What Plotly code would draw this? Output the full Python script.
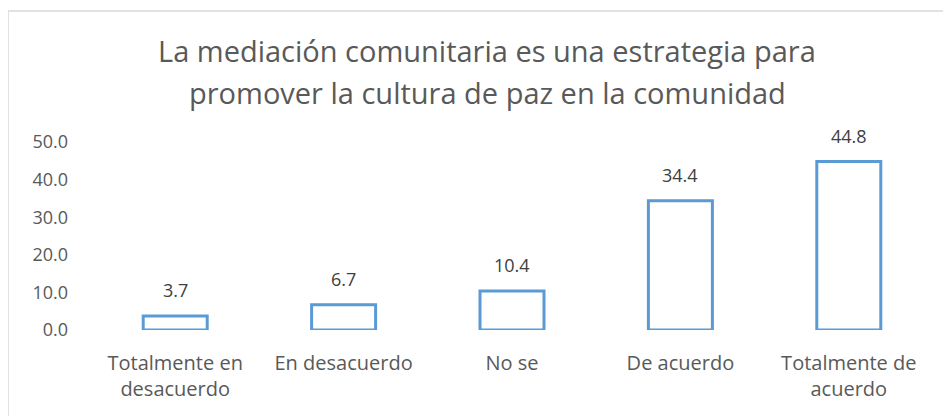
import plotly.graph_objects as go

categories = ["Totalmente en<br>desacuerdo", "En desacuerdo", "No se", "De acuerdo", "Totalmente de<br>acuerdo"]
values = [3.7, 6.7, 10.4, 34.4, 44.8]
title_lines = ["La mediación comunitaria es una estrategia para",
               "promover la cultura de paz en la comunidad"]
tick_vals = [0, 10, 20, 30, 40, 50]
tick_text = ["0.0", "10.0", "20.0", "30.0", "40.0", "50.0"]

FONT = "Open Sans, Lato, sans-serif"
OFF = 8  # page body margin
W, H = 951 - OFF, 416 - OFF
ml, mr, mt, mb = 91 - OFF, 18, 142 - OFF, 86
pw = W - ml - mr
ph = H - mt - mb

fig = go.Figure(go.Bar(
    x=categories, y=values,
    marker=dict(color="white", line=dict(color="#5B9BD5", width=3)),
    width=0.38,
    cliponaxis=False,
))

for c, v in zip(categories, values):
    fig.add_annotation(x=c, y=v, text=f"{v:.1f}", showarrow=False,
                       xanchor="center", yanchor="middle", yshift=26,
                       font=dict(size=18, color="#404040", family=FONT))

fig.update_layout(
    width=W, height=H,
    margin=dict(l=ml, r=mr, t=mt, b=mb, autoexpand=False),
    paper_bgcolor="white", plot_bgcolor="white",
    showlegend=False,
    font=dict(family=FONT, color="#595959"),
    xaxis=dict(showgrid=False, showline=False, zeroline=False, ticks="",
               automargin=False, ticklabelstandoff=19,
               tickfont=dict(size=20, color="#595959")),
    yaxis=dict(range=[0, 50], tickvals=tick_vals, ticktext=tick_text,
               showgrid=False, showline=False, zeroline=False,
               automargin=False, ticks="", ticklabelstandoff=22,
               tickfont=dict(size=18, color="#595959")),
)

for i, line in enumerate(title_lines):
    fig.add_annotation(text=line, xref="paper", yref="paper",
                       x=(487 - 91) / pw, y=(330 - (50 + 43 * i)) / ph,
                       xanchor="center", yanchor="middle", showarrow=False,
                       font=dict(size=29, color="#595959", family=FONT))

fig.add_shape(type="rect", xref="paper", yref="paper",
              x0=(8 - 91) / pw, x1=(W + 40 - 91) / pw,
              y0=-1.0, y1=(330 - 11) / ph,
              line=dict(color="#D9D9D9", width=1.5), layer="below")

fig.write_html("out.html")
